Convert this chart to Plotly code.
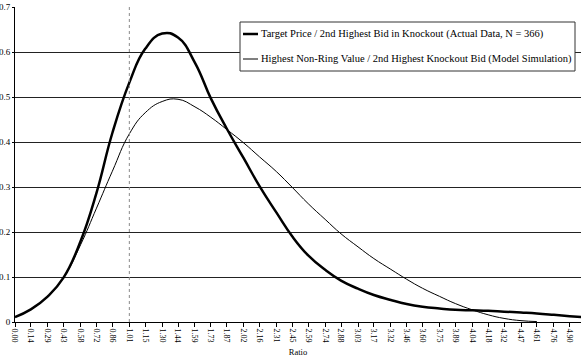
import plotly.graph_objects as go

# Ratio grid (category positions shown on the x axis)
ratio_ticks = ["0.00", "0.14", "0.29", "0.43", "0.58", "0.72", "0.86", "1.01", "1.15",
               "1.30", "1.44", "1.59", "1.73", "1.87", "2.02", "2.16", "2.31", "2.45",
               "2.59", "2.74", "2.88", "3.03", "3.17", "3.32", "3.46", "3.60", "3.75",
               "3.89", "4.04", "4.18", "4.32", "4.47", "4.61", "4.76", "4.90"]

# Actual data: target price / 2nd highest bid in knockout
actual_x = [float(t) for t in ratio_ticks] + [5.04]
actual_y = [0.011, 0.028, 0.057, 0.099, 0.180, 0.287, 0.420, 0.532, 0.607,
            0.641, 0.632, 0.576, 0.497, 0.430, 0.364, 0.302, 0.243, 0.190,
            0.148, 0.116, 0.092, 0.074, 0.060, 0.049, 0.040, 0.034, 0.030,
            0.027, 0.026, 0.025, 0.023, 0.021, 0.019, 0.016, 0.013, 0.010]

# Model simulation: highest non-ring value / 2nd highest knockout bid
model_x = [float(t) for t in ratio_ticks[:33]]
model_y = [0.011, 0.028, 0.057, 0.099, 0.172, 0.253, 0.335, 0.418, 0.465,
           0.490, 0.495, 0.478, 0.455, 0.428, 0.398, 0.367, 0.334, 0.299,
           0.263, 0.228, 0.196, 0.167, 0.141, 0.117, 0.095, 0.075, 0.057,
           0.041, 0.027, 0.016, 0.008, 0.003, 0.001]

y_ticks = [0, 0.1, 0.2, 0.3, 0.4, 0.5, 0.6, 0.7]
y_tick_text = ["0", "0.1", "0.2", "0.3", "0.4", "0.5", "0.6", "0.7"]

ref_ratio = 1.01
series_names = ["Target Price / 2nd Highest Bid in Knockout (Actual Data, N = 366)",
                "Highest Non-Ring Value / 2nd Highest Knockout Bid (Model Simulation)"]

W, H = 581, 360
ML, MR, MT, MB = 15, 0, 7, 38
PW, PH = W - ML - MR, H - MT - MB
SERIF = '"Liberation Serif", "Times New Roman", serif'


def px_x(px):
    return (px - ML) / PW


def px_y(py):
    return (H - MB - py) / PH


fig = go.Figure()
fig.add_trace(go.Scatter(x=actual_x, y=actual_y, mode="lines",
                         line=dict(color="black", width=2.5, shape="spline", smoothing=1.3),
                         name=series_names[0], showlegend=False))
fig.add_trace(go.Scatter(x=model_x, y=model_y, mode="lines",
                         line=dict(color="black", width=1, shape="spline", smoothing=1.3),
                         name=series_names[1], showlegend=False))

shapes = [
    # reference ratio marker
    dict(type="line", xref="x", yref="y", x0=ref_ratio, x1=ref_ratio, y0=0, y1=0.7,
         line=dict(color="#8a8a8a", width=1, dash="dot"), layer="above"),
    # legend box
    dict(type="rect", xref="paper", yref="paper", x0=px_x(240), x1=px_x(575),
         y0=px_y(71), y1=px_y(22), fillcolor="white",
         line=dict(color="#333333", width=1), layer="above"),
    dict(type="line", xref="paper", yref="paper", x0=px_x(243), x1=px_x(258),
         y0=px_y(34), y1=px_y(34), line=dict(color="black", width=2.5), layer="above"),
    dict(type="line", xref="paper", yref="paper", x0=px_x(243), x1=px_x(258),
         y0=px_y(59), y1=px_y(59), line=dict(color="black", width=1), layer="above"),
]

annotations = [
    dict(xref="paper", yref="paper", x=px_x(259), y=px_y(34), text=series_names[0],
         xanchor="left", yanchor="middle", showarrow=False,
         font=dict(family=SERIF, size=10.5, color="black")),
    dict(xref="paper", yref="paper", x=px_x(259), y=px_y(59), text=series_names[1],
         xanchor="left", yanchor="middle", showarrow=False,
         font=dict(family=SERIF, size=10.5, color="black")),
]

fig.update_layout(
    width=W, height=H,
    margin=dict(l=ML, r=MR, t=MT, b=MB, pad=0),
    paper_bgcolor="white", plot_bgcolor="white",
    font=dict(family=SERIF, color="black"),
    shapes=shapes, annotations=annotations,
    showlegend=False,
)

fig.update_xaxes(
    range=[0, 5.0],
    tickvals=[float(t) for t in ratio_ticks], ticktext=ratio_ticks,
    tickangle=90, tickfont=dict(family=SERIF, size=8, color="black"),
    ticks="outside", ticklen=4, tickcolor="black", tickwidth=1,
    showline=True, linecolor="black", linewidth=1,
    showgrid=False, zeroline=False,
    title=dict(text="Ratio", font=dict(family=SERIF, size=8.5, color="black"), standoff=7),
)

fig.update_yaxes(
    range=[0, 0.7],
    tickvals=y_ticks, ticktext=y_tick_text,
    tickfont=dict(family=SERIF, size=9, color="black"),
    ticks="outside", ticklen=2, tickcolor="black",
    showline=True, linecolor="black", linewidth=1,
    showgrid=True, gridcolor="#222222", gridwidth=1, zeroline=False,
)

fig.write_html("out.html")
